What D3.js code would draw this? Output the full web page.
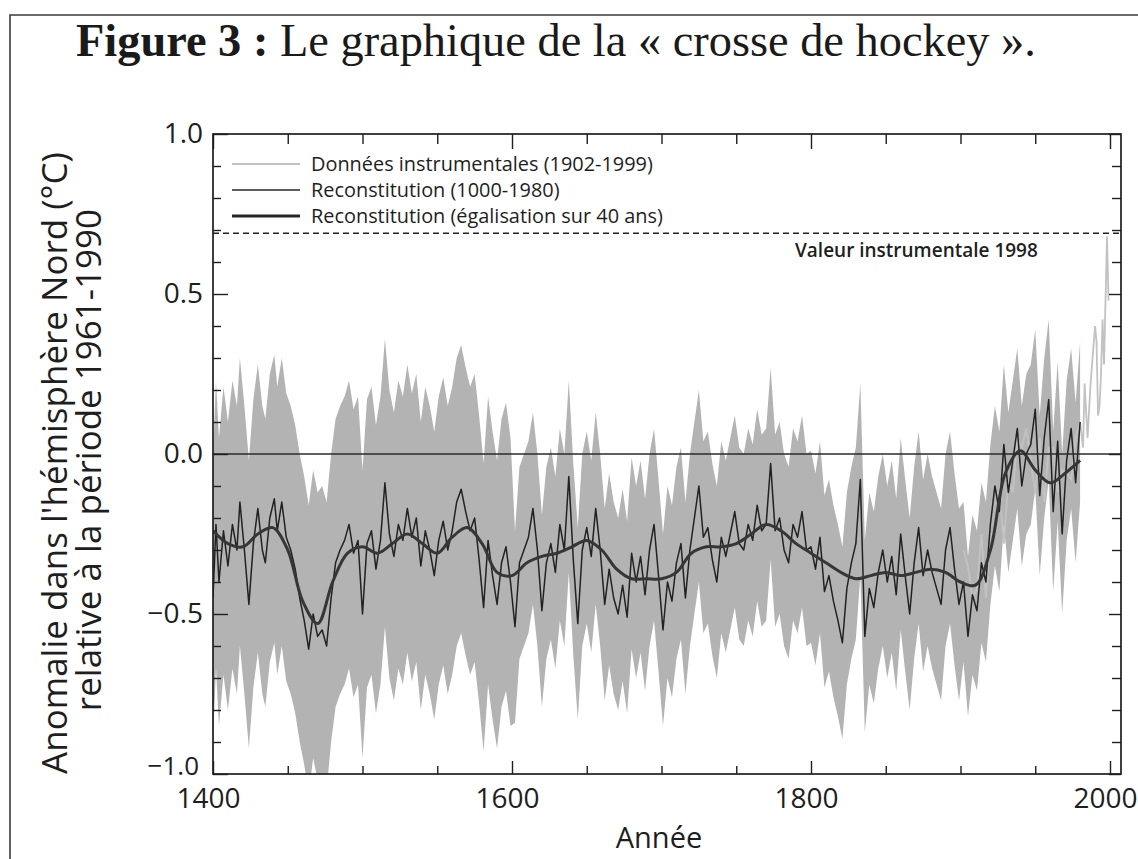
<!DOCTYPE html>
<html><head><meta charset="utf-8">
<script src="https://cdn.jsdelivr.net/npm/d3@7"></script>
<style>body{margin:0;background:#fff} svg{display:block}</style>
</head><body>
<svg id="c" width="1138" height="859"></svg>
<script>
// ---------- DATA ----------
const titleBold = "Figure 3 :";
const titleRest = " Le graphique de la « crosse de hockey ».";
const yLabelLines = ["Anomalie dans l'hémisphère Nord (°C)", "relative à la période 1961-1990"];
const xLabel = "Année";
const legendLabels = ["Données instrumentales (1902-1999)", "Reconstitution (1000-1980)", "Reconstitution (égalisation sur 40 ans)"];
const refLabel = "Valeur instrumentale 1998";
const refValue = 0.69;
const xMajorTicks = [1400, 1600, 1800, 2000];
const xMinorTicks = [1450, 1500, 1550, 1650, 1700, 1750, 1850, 1900, 1950];
const yMajorTicks = [-1, -0.5, 0, 0.5, 1];
const yMinorTicks = [-0.9, -0.8, -0.7, -0.6, -0.4, -0.3, -0.2, -0.1, 0.1, 0.2, 0.3, 0.4, 0.6, 0.7, 0.8, 0.9];

// annual-ish reconstruction (year, anomaly)
const reconData = [
[1400,-0.45],[1402,-0.22],[1404,-0.40],[1407,-0.24],[1410,-0.35],[1413,-0.22],[1416,-0.30],[1418,-0.15],
[1421,-0.30],[1424,-0.47],[1427,-0.28],[1430,-0.17],[1433,-0.30],[1435,-0.34],[1438,-0.20],[1441,-0.14],
[1443,-0.24],[1446,-0.15],[1449,-0.26],[1452,-0.30],[1455,-0.36],[1458,-0.45],[1461,-0.52],[1464,-0.61],
[1467,-0.50],[1470,-0.57],[1473,-0.55],[1476,-0.60],[1479,-0.45],[1482,-0.34],[1485,-0.30],[1488,-0.27],
[1491,-0.22],[1494,-0.31],[1497,-0.27],
[1500,-0.50],[1503,-0.28],[1506,-0.24],[1509,-0.36],[1512,-0.27],[1515,-0.09],[1518,-0.25],[1521,-0.32],
[1524,-0.22],[1527,-0.27],[1530,-0.17],[1533,-0.26],[1536,-0.20],[1539,-0.35],[1542,-0.24],[1545,-0.30],
[1548,-0.38],[1551,-0.27],[1554,-0.21],[1557,-0.30],[1560,-0.24],[1563,-0.15],[1566,-0.11],[1569,-0.18],
[1572,-0.24],[1575,-0.20],[1578,-0.33],[1581,-0.48],[1584,-0.27],[1587,-0.38],[1590,-0.47],[1593,-0.34],
[1596,-0.29],[1599,-0.40],[1602,-0.54],[1605,-0.34],[1608,-0.30],[1611,-0.26],[1614,-0.17],[1617,-0.30],
[1620,-0.49],[1623,-0.34],[1626,-0.28],[1629,-0.37],[1632,-0.22],[1635,-0.30],[1638,-0.07],[1641,-0.33],
[1644,-0.53],[1647,-0.30],[1650,-0.23],[1653,-0.32],[1656,-0.17],[1659,-0.30],[1662,-0.47],[1665,-0.36],
[1668,-0.45],[1671,-0.50],[1674,-0.41],[1677,-0.51],[1680,-0.31],[1683,-0.40],[1686,-0.32],[1689,-0.44],
[1692,-0.30],[1695,-0.22],[1698,-0.38],[1701,-0.55],[1704,-0.40],[1707,-0.46],[1710,-0.34],[1713,-0.28],
[1716,-0.45],[1719,-0.30],[1722,-0.20],[1725,-0.10],[1728,-0.26],[1731,-0.23],[1734,-0.33],[1737,-0.40],
[1740,-0.26],[1743,-0.32],[1746,-0.25],[1749,-0.18],[1752,-0.28],[1755,-0.30],[1758,-0.22],[1761,-0.27],
[1764,-0.16],[1767,-0.24],[1770,-0.22],[1773,-0.03],[1776,-0.24],[1779,-0.20],[1782,-0.30],[1785,-0.34],
[1788,-0.22],[1791,-0.26],[1794,-0.18],[1797,-0.30],[1800,-0.29],[1803,-0.36],[1806,-0.26],[1809,-0.43],
[1812,-0.38],[1815,-0.46],[1818,-0.52],[1821,-0.59],[1824,-0.42],[1827,-0.34],[1830,-0.28],[1833,-0.08],
[1836,-0.57],[1839,-0.42],[1842,-0.48],[1845,-0.37],[1848,-0.30],[1851,-0.40],[1854,-0.32],[1857,-0.44],
[1860,-0.25],[1863,-0.38],[1866,-0.50],[1869,-0.34],[1872,-0.23],[1875,-0.38],[1878,-0.30],[1881,-0.37],
[1884,-0.42],[1887,-0.47],[1890,-0.30],[1893,-0.23],[1896,-0.36],[1899,-0.47],[1902,-0.40],[1905,-0.57],
[1908,-0.44],[1911,-0.49],[1914,-0.34],[1917,-0.40],[1920,-0.22],[1923,-0.10],[1926,-0.18],[1929,0.03],
[1932,-0.12],[1935,-0.02],[1938,0.08],[1941,-0.10],[1944,0.00],[1947,0.03],[1950,0.14],[1953,-0.13],
[1956,0.05],[1959,0.17],[1962,-0.18],[1965,0.04],[1968,-0.25],[1971,-0.02],[1974,0.08],[1977,-0.09],
[1980,0.10]
];

// 40-year smoothed reconstruction
const smoothYears  = [1400,1410,1420,1430,1440,1450,1460,1470,1480,1490,1500,1510,1520,1530,1540,1550,1560,1570,1580,1590,1600,1610,1620,1630,1640,1650,1660,1670,1680,1690,1700,1710,1720,1730,1740,1750,1760,1770,1780,1790,1800,1810,1820,1830,1840,1850,1860,1870,1880,1890,1900,1910,1920,1930,1940,1950,1960,1970,1980];
const smoothValues = [-0.24,-0.28,-0.29,-0.25,-0.23,-0.30,-0.46,-0.53,-0.40,-0.31,-0.29,-0.31,-0.28,-0.25,-0.28,-0.31,-0.26,-0.23,-0.28,-0.37,-0.38,-0.34,-0.32,-0.31,-0.29,-0.27,-0.30,-0.36,-0.39,-0.39,-0.39,-0.37,-0.31,-0.29,-0.29,-0.28,-0.25,-0.22,-0.24,-0.28,-0.31,-0.34,-0.37,-0.39,-0.38,-0.37,-0.38,-0.37,-0.36,-0.37,-0.40,-0.41,-0.30,-0.06,0.01,-0.05,-0.09,-0.06,-0.02];

// instrumental record 1902-1999
const instYears  = [1902,1905,1908,1911,1914,1917,1920,1923,1926,1929,1932,1935,1938,1941,1944,1947,1950,1953,1956,1959,1962,1965,1968,1971,1974,1977,1980,1982,1983,1985,1987,1988,1990,1991,1992,1993,1994,1995,1996,1997,1998,1999];
const instValues = [-0.30,-0.35,-0.45,-0.42,-0.25,-0.45,-0.25,-0.25,-0.12,-0.28,-0.08,-0.12,0.05,0.02,0.08,-0.02,-0.12,0.05,-0.15,0.02,0.02,-0.12,-0.05,-0.06,-0.08,0.05,0.10,0.02,0.22,0.05,0.22,0.28,0.40,0.35,0.12,0.15,0.25,0.42,0.28,0.48,0.68,0.48];

// 2-sigma uncertainty by calibration period
const sigmaStarts = [1400, 1600, 1900];
const twoSigma    = [0.45, 0.30, 0.25];

// ---------- LAYOUT ----------
const svg = d3.select("#c");
const L = 213, R = 1121, T = 134, B = 774;
const x = d3.scaleLinear().domain([1400, 2000]).range([L, 1110]);
const y = d3.scaleLinear().domain([-1, 1]).range([B, T]);
const ink = "#1e1e1e";
const sans = "'Open Sans', 'Noto Sans', sans-serif";

function fit(sel, target) {
  const w = sel.node().getComputedTextLength();
  const fs = parseFloat(sel.attr("font-size"));
  sel.attr("font-size", fs * target / w);
  return fs * target / w;
}

// outer border
svg.append("path").attr("d", "M10,859V15H1138").attr("fill", "none").attr("stroke", "#3a3a3a").attr("stroke-width", 1.6);

// title
const title = svg.append("text").attr("x", 76).attr("y", 56)
  .attr("font-family", "'Liberation Serif', 'DejaVu Serif', serif").attr("font-size", 40).attr("fill", "#1a1a1a");
title.append("tspan").attr("font-weight", "bold").text(titleBold);
title.append("tspan").text(titleRest);
fit(title, 960);

// clip
svg.append("clipPath").attr("id", "plot").append("rect").attr("x", L).attr("y", T).attr("width", R - L).attr("height", B - T);
const plot = svg.append("g").attr("clip-path", "url(#plot)");

function halfWidth(yr) {
  let w = twoSigma[0];
  sigmaStarts.forEach((s, i) => { if (yr >= s) w = twoSigma[i]; });
  return w;
}

// uncertainty band
plot.append("path").datum(reconData)
  .attr("fill", "#b3b3b3")
  .attr("d", d3.area().x(d => x(d[0])).y0(d => y(d[1] - halfWidth(d[0]))).y1(d => y(d[1] + halfWidth(d[0]))));

// instrumental line
plot.append("path").datum(instYears.map((yr, i) => [yr, instValues[i]]))
  .attr("fill", "none").attr("stroke", "#c2c2c2").attr("stroke-width", 1.8)
  .attr("d", d3.line().x(d => x(d[0])).y(d => y(d[1])));

// zero line
svg.append("line").attr("x1", L).attr("x2", R).attr("y1", y(0)).attr("y2", y(0))
  .attr("stroke", "#2a2a2a").attr("stroke-width", 1.3);

// 1998 reference dashed line
svg.append("line").attr("x1", L).attr("x2", R).attr("y1", y(refValue)).attr("y2", y(refValue))
  .attr("stroke", "#222").attr("stroke-width", 1.5).attr("stroke-dasharray", "6,4");
const refText = svg.append("text").attr("x", 795).attr("y", 257)
  .attr("font-family", sans).attr("font-weight", 600).attr("font-size", 16).attr("fill", ink).text(refLabel);
fit(refText, 243);

// reconstruction
plot.append("path").datum(reconData)
  .attr("fill", "none").attr("stroke", "#222").attr("stroke-width", 1.5).attr("stroke-linejoin", "round")
  .attr("d", d3.line().x(d => x(d[0])).y(d => y(d[1])));

// smoothed
plot.append("path").datum(smoothYears.map((yr, i) => [yr, smoothValues[i]]))
  .attr("fill", "none").attr("stroke", "#363636").attr("stroke-width", 3)
  .attr("d", d3.line().curve(d3.curveCatmullRom).x(d => x(d[0])).y(d => y(d[1])));

// frame
svg.append("rect").attr("x", L).attr("y", T).attr("width", R - L).attr("height", B - T)
  .attr("fill", "none").attr("stroke", ink).attr("stroke-width", 1.7);

// axes
function styleAxis(g) {
  g.select(".domain").remove();
  g.selectAll(".tick line").attr("stroke", ink).attr("stroke-width", 1.4);
  g.selectAll(".tick text").attr("font-family", sans).attr("font-size", 28).attr("fill", ink);
}
svg.append("g").attr("transform", `translate(0,${B})`)
  .call(d3.axisBottom(x).tickValues(xMajorTicks).tickSize(-13).tickPadding(14).tickFormat(d3.format("d"))).call(styleAxis)
  .selectAll(".tick text").attr("dx", -5);
svg.append("g").attr("transform", `translate(0,${B})`)
  .call(d3.axisBottom(x).tickValues(xMinorTicks).tickSize(-8).tickFormat("")).call(styleAxis);
svg.append("g").attr("transform", `translate(0,${T})`)
  .call(d3.axisTop(x).tickValues(xMajorTicks).tickSize(-15).tickFormat("")).call(styleAxis);
svg.append("g").attr("transform", `translate(0,${T})`)
  .call(d3.axisTop(x).tickValues(xMinorTicks).tickSize(-10).tickFormat("")).call(styleAxis);
const yAxisG = svg.append("g").attr("transform", `translate(${L},0)`)
  .call(d3.axisLeft(y).tickValues(yMajorTicks).tickSize(-15).tickPadding(10).tickFormat(d3.format(".1f"))).call(styleAxis);
yAxisG.selectAll(".tick text").filter(d => d === -1).attr("y", -8).attr("x", -14).attr("font-size", 26);
svg.append("g").attr("transform", `translate(${L},0)`)
  .call(d3.axisLeft(y).tickValues(yMinorTicks).tickSize(-8).tickFormat("")).call(styleAxis);
svg.append("g").attr("transform", `translate(${R},0)`)
  .call(d3.axisRight(y).tickValues(yMajorTicks).tickSize(-12).tickFormat("")).call(styleAxis);
svg.append("g").attr("transform", `translate(${R},0)`)
  .call(d3.axisRight(y).tickValues(yMinorTicks).tickSize(-9).tickFormat("")).call(styleAxis);

// x label
svg.append("text").attr("x", 659).attr("y", 848).attr("text-anchor", "middle")
  .attr("font-family", sans).attr("font-size", 29).attr("fill", ink).text(xLabel);

// y label
const yl1 = svg.append("text").attr("transform", "translate(53,463) rotate(-90)")
  .attr("text-anchor", "middle").attr("dominant-baseline", "central")
  .attr("font-family", sans).attr("font-size", 24).attr("fill", ink).text(yLabelLines[0]);
const fsY = fit(yl1, 622);
svg.append("text").attr("transform", "translate(87,460) rotate(-90)")
  .attr("text-anchor", "middle").attr("dominant-baseline", "central")
  .attr("font-family", sans).attr("font-size", fsY).attr("fill", ink).text(yLabelLines[1]);

// legend
const legStyles = [
  {stroke: "#c2c2c2", w: 2},
  {stroke: "#262626", w: 1.5},
  {stroke: "#262626", w: 3.2}
];
const legY = [164, 190, 216];
let legFs = null;
legendLabels.forEach((lab, i) => {
  svg.append("line").attr("x1", 232).attr("x2", 300).attr("y1", legY[i]).attr("y2", legY[i])
    .attr("stroke", legStyles[i].stroke).attr("stroke-width", legStyles[i].w);
  const t = svg.append("text").attr("x", 311).attr("y", legY[i]).attr("dy", "0.36em")
    .attr("font-family", sans).attr("font-size", legFs || 18).attr("fill", ink).text(lab);
  if (i === 0) legFs = fit(t, 342);
});
</script>
</body></html>
